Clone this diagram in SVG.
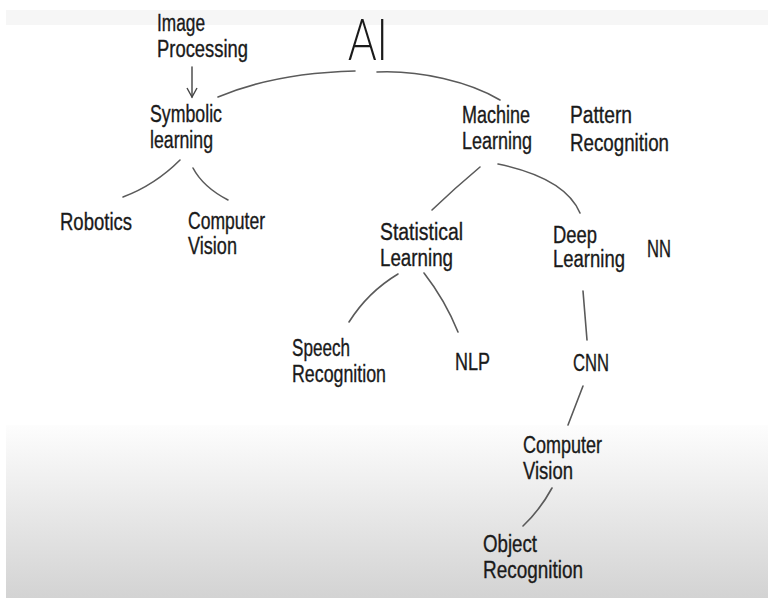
<svg xmlns="http://www.w3.org/2000/svg" width="768" height="598" viewBox="0 0 768 598">
  <defs>
    <linearGradient id="floor" x1="0" y1="0" x2="0" y2="1">
      <stop offset="0" stop-color="#fdfdfd"/>
      <stop offset="1" stop-color="#d3d3d3"/>
    </linearGradient>
    <marker id="vhead" markerWidth="12" markerHeight="12" refX="10" refY="6" orient="auto" markerUnits="userSpaceOnUse">
      <path d="M1,1 L10,6 L1,11" fill="none" stroke="#444" stroke-width="1.4"/>
    </marker>
    <style>
      .lbl { font-family: "Liberation Sans", Arial, sans-serif; font-size: 23px; fill: #1a1a1a; stroke: #1a1a1a; stroke-width: 0.35; }
      .big { font-family: Lato, "DejaVu Sans", sans-serif; font-weight: 300; font-size: 58px; fill: #1a1a1a; }
      .edge { fill: none; stroke: #5a5a5a; stroke-width: 1.6; stroke-linecap: round; }
    </style>
  </defs>

  <!-- board background -->
  <rect x="0" y="0" width="768" height="598" fill="#ffffff"/>
  <rect x="6" y="10" width="762" height="15" fill="#f6f6f6"/>
  <rect x="6" y="425" width="762" height="173" fill="url(#floor)"/>

  <!-- connectors -->
  <g id="connectors">
    <path class="edge" d="M192,67 L192,97" marker-end="url(#vhead)"/>
    <path class="edge" d="M218,97 Q275,73 355,71"/>
    <path class="edge" d="M377,72 C420,70 470,82 500,100"/>
    <path class="edge" d="M180,160 Q155,185 123,197"/>
    <path class="edge" d="M193,168 Q203,187 228,200"/>
    <path class="edge" d="M480,167 Q455,188 432,210"/>
    <path class="edge" d="M498,164 Q565,178 580,213"/>
    <path class="edge" d="M398,274 Q368,292 349,322"/>
    <path class="edge" d="M424,273 Q445,300 458,332"/>
    <path class="edge" d="M583,291 L587,340"/>
    <path class="edge" d="M583,386 L568,425"/>
    <path class="edge" d="M552,488 Q540,510 523,526"/>
  </g>

  <!-- nodes -->
  <g id="ai"><text class="big" x="348" y="60" textLength="40" lengthAdjust="spacingAndGlyphs">AI</text></g>
  <g id="image-processing">
    <text class="lbl" x="157" y="31" textLength="48" lengthAdjust="spacingAndGlyphs">Image</text>
    <text class="lbl" x="157" y="57" textLength="91" lengthAdjust="spacingAndGlyphs">Processing</text>
  </g>
  <g id="symbolic-learning">
    <text class="lbl" x="150" y="122" textLength="72" lengthAdjust="spacingAndGlyphs">Symbolic</text>
    <text class="lbl" x="150" y="148" textLength="63" lengthAdjust="spacingAndGlyphs">learning</text>
  </g>
  <g id="robotics">
    <text class="lbl" x="60" y="230" textLength="72" lengthAdjust="spacingAndGlyphs">Robotics</text>
  </g>
  <g id="computer-vision-1">
    <text class="lbl" x="188" y="229" textLength="77" lengthAdjust="spacingAndGlyphs">Computer</text>
    <text class="lbl" x="188" y="254" textLength="49" lengthAdjust="spacingAndGlyphs">Vision</text>
  </g>
  <g id="machine-learning">
    <text class="lbl" x="462" y="123" textLength="68" lengthAdjust="spacingAndGlyphs">Machine</text>
    <text class="lbl" x="462" y="149" textLength="70" lengthAdjust="spacingAndGlyphs">Learning</text>
  </g>
  <g id="pattern-recognition">
    <text class="lbl" x="570" y="123" textLength="62" lengthAdjust="spacingAndGlyphs">Pattern</text>
    <text class="lbl" x="570" y="151" textLength="99" lengthAdjust="spacingAndGlyphs">Recognition</text>
  </g>
  <g id="statistical-learning">
    <text class="lbl" x="380" y="240" textLength="83" lengthAdjust="spacingAndGlyphs">Statistical</text>
    <text class="lbl" x="380" y="266" textLength="73" lengthAdjust="spacingAndGlyphs">Learning</text>
  </g>
  <g id="deep-learning">
    <text class="lbl" x="553" y="243" textLength="44" lengthAdjust="spacingAndGlyphs">Deep</text>
    <text class="lbl" x="553" y="267" textLength="72" lengthAdjust="spacingAndGlyphs">Learning</text>
  </g>
  <g id="nn">
    <text class="lbl" x="647" y="257" textLength="24" lengthAdjust="spacingAndGlyphs">NN</text>
  </g>
  <g id="speech-recognition">
    <text class="lbl" x="292" y="356" textLength="58" lengthAdjust="spacingAndGlyphs">Speech</text>
    <text class="lbl" x="292" y="382" textLength="94" lengthAdjust="spacingAndGlyphs">Recognition</text>
  </g>
  <g id="nlp">
    <text class="lbl" x="455" y="370" textLength="35" lengthAdjust="spacingAndGlyphs">NLP</text>
  </g>
  <g id="cnn">
    <text class="lbl" x="573" y="371" textLength="36" lengthAdjust="spacingAndGlyphs">CNN</text>
  </g>
  <g id="computer-vision-2">
    <text class="lbl" x="523" y="453" textLength="79" lengthAdjust="spacingAndGlyphs">Computer</text>
    <text class="lbl" x="523" y="479" textLength="50" lengthAdjust="spacingAndGlyphs">Vision</text>
  </g>
  <g id="object-recognition">
    <text class="lbl" x="483" y="552" textLength="54" lengthAdjust="spacingAndGlyphs">Object</text>
    <text class="lbl" x="483" y="578" textLength="100" lengthAdjust="spacingAndGlyphs">Recognition</text>
  </g>
</svg>
